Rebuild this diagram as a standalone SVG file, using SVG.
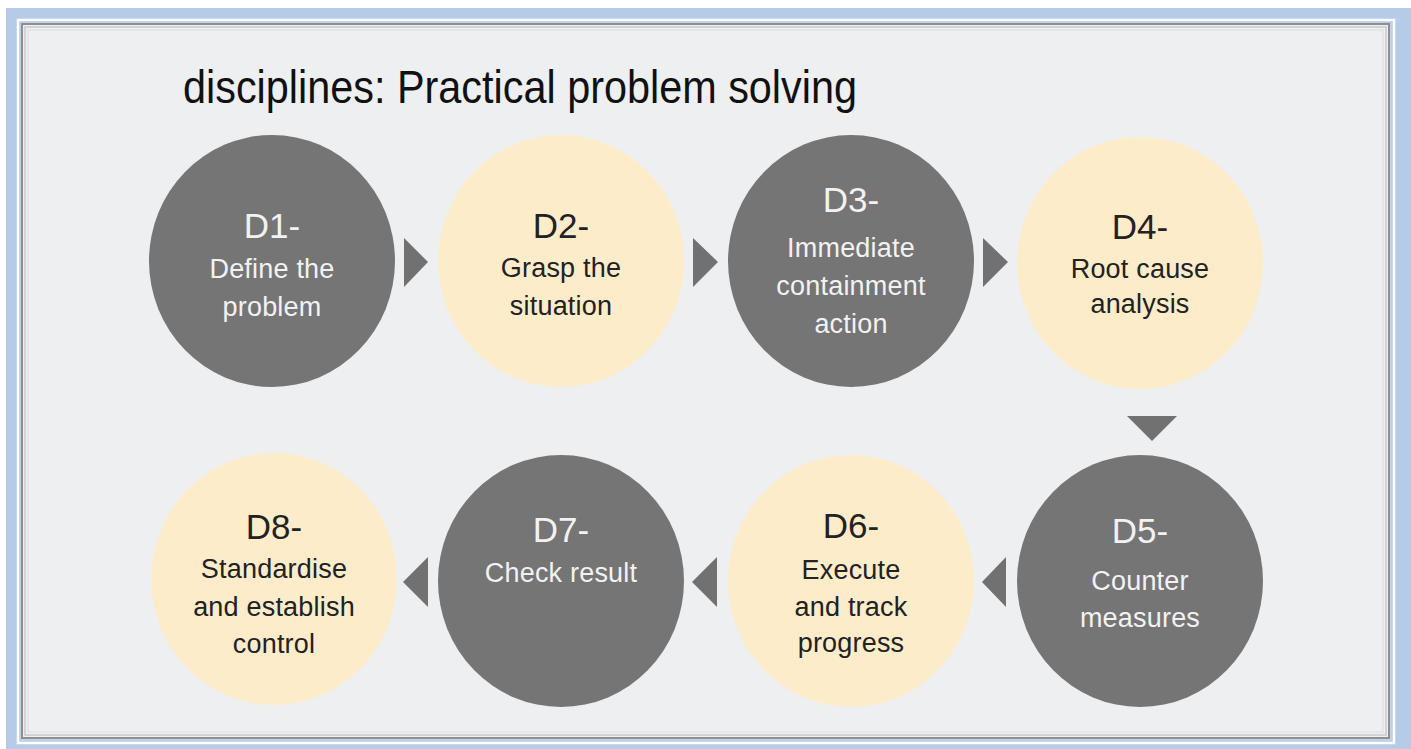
<svg xmlns="http://www.w3.org/2000/svg" width="1411" height="749" viewBox="0 0 1411 749">
<style>
.dark{fill:#757576}
.cream{fill:#fdecca}
.arr{fill:#717172}
.t{font-family:"Liberation Sans",Arial,sans-serif;text-anchor:middle}
.lt{fill:#f2f2f2}
.dk{fill:#222222}
.h{font-size:35px}
.b{font-size:27px;letter-spacing:0.2px}
</style>
<rect x="0" y="0" width="1411" height="749" fill="#ffffff"/>
<rect x="6" y="8" width="1405" height="741" fill="#b5cbe8"/>
<rect x="18" y="20" width="1376" height="723" fill="none" stroke="#ffffff" stroke-width="2.5"/>
<rect x="20.5" y="22.5" width="1371" height="718" fill="#c9d3e0"/>
<rect x="22" y="24" width="1367" height="714" fill="#eeeff1" stroke="#8f8f92" stroke-width="2"/>
<rect x="25" y="27" width="1361" height="708" fill="none" stroke="#d2d3d6" stroke-width="2"/>
<rect x="28" y="30" width="1355" height="702" fill="none" stroke="#e4e5e8" stroke-width="2"/>
<text x="183" y="103" font-family="'Liberation Sans',Arial,sans-serif" font-size="47" fill="#111111" textLength="674" lengthAdjust="spacingAndGlyphs">disciplines: Practical problem solving</text>
<g id="connectors">
<polygon class="arr" points="404,238 428,262 404,287"/>
<polygon class="arr" points="693,238 718,262 693,287"/>
<polygon class="arr" points="983,238 1008,262 983,287"/>
<polygon class="arr" points="1127,416 1177,416 1152,441"/>
<polygon class="arr" points="1006,557 982,582 1006,607"/>
<polygon class="arr" points="717,557 692,582 717,607"/>
<polygon class="arr" points="428,557 403,582 428,607"/>
</g>
<g id="D1">
<ellipse class="dark" cx="272" cy="261" rx="123" ry="126"/>
<text class="t lt h" x="272" y="238">D1-</text>
<text class="t lt b" x="272" y="278">Define the</text>
<text class="t lt b" x="272" y="316">problem</text>
</g>
<g id="D2">
<ellipse class="cream" cx="561" cy="261" rx="123" ry="126"/>
<text class="t dk h" x="561" y="238">D2-</text>
<text class="t dk b" x="561" y="277">Grasp the</text>
<text class="t dk b" x="561" y="315">situation</text>
</g>
<g id="D3">
<ellipse class="dark" cx="851" cy="261" rx="123" ry="126"/>
<text class="t lt h" x="851" y="212">D3-</text>
<text class="t lt b" x="851" y="257">Immediate</text>
<text class="t lt b" x="851" y="295">containment</text>
<text class="t lt b" x="851" y="333">action</text>
</g>
<g id="D4">
<ellipse class="cream" cx="1140" cy="263" rx="123" ry="126"/>
<text class="t dk h" x="1140" y="239">D4-</text>
<text class="t dk b" x="1140" y="278">Root cause</text>
<text class="t dk b" x="1140" y="313">analysis</text>
</g>
<g id="D5">
<ellipse class="dark" cx="1140" cy="581" rx="123" ry="126"/>
<text class="t lt h" x="1140" y="543">D5-</text>
<text class="t lt b" x="1140" y="590">Counter</text>
<text class="t lt b" x="1140" y="627">measures</text>
</g>
<g id="D6">
<ellipse class="cream" cx="851" cy="581" rx="123" ry="126"/>
<text class="t dk h" x="851" y="538">D6-</text>
<text class="t dk b" x="851" y="579">Execute</text>
<text class="t dk b" x="851" y="616">and track</text>
<text class="t dk b" x="851" y="652">progress</text>
</g>
<g id="D7">
<ellipse class="dark" cx="561" cy="581" rx="123" ry="126"/>
<text class="t lt h" x="561" y="542">D7-</text>
<text class="t lt b" x="561" y="582">Check result</text>
</g>
<g id="D8">
<ellipse class="cream" cx="274" cy="579" rx="123" ry="126"/>
<text class="t dk h" x="274" y="539">D8-</text>
<text class="t dk b" x="274" y="578">Standardise</text>
<text class="t dk b" x="274" y="616">and establish</text>
<text class="t dk b" x="274" y="653">control</text>
</g>
</svg>
